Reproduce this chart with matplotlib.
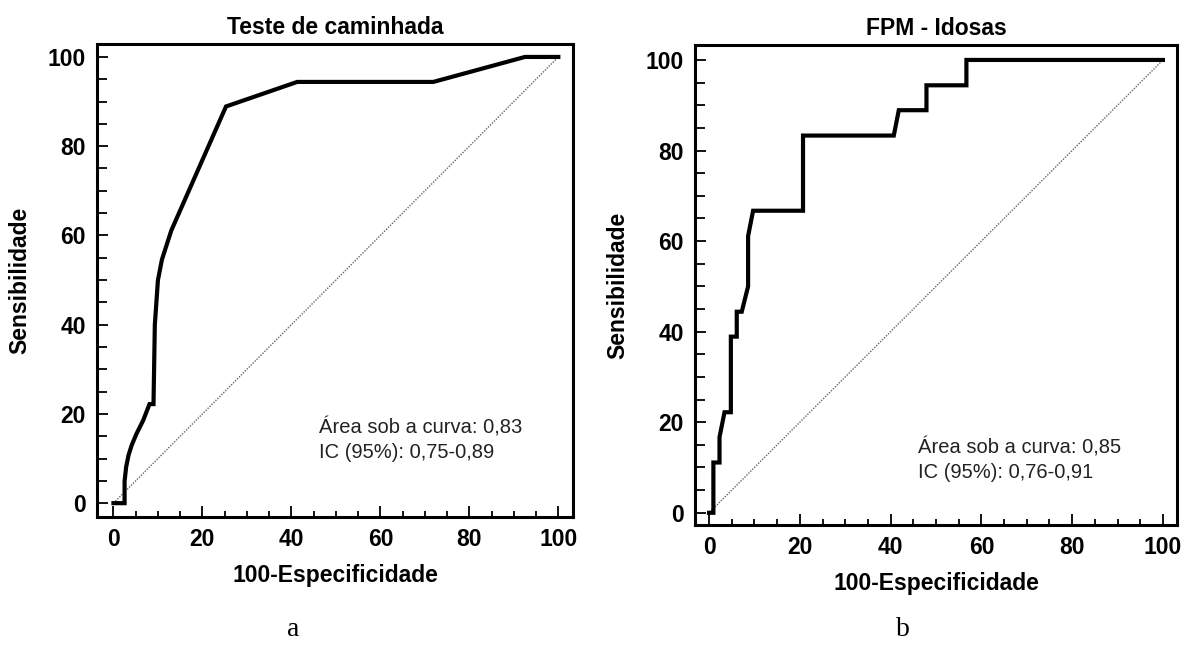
import matplotlib
matplotlib.use("Agg")
import matplotlib.pyplot as plt
from matplotlib.ticker import MultipleLocator

plt.rcParams['font.family'] = ['Liberation Sans', 'DejaVu Sans']

# ROC curve a - Teste de caminhada
walk_fpr = [0, 2.5, 2.5, 2.85, 3.4, 4.1, 5.2, 6.7, 8.1, 9.0, 9.3, 10.0, 10.9, 13.0,
            25.3, 41.3, 71.9, 92.5, 100]
walk_tpr = [0, 0, 4.9, 8.1, 10.8, 13.0, 15.6, 18.6, 22.2, 22.2, 40.0, 50.0, 54.6, 61.1,
            88.9, 94.4, 94.4, 100, 100]

# ROC curve b - FPM - Idosas
fpm_fpr = [0, 0.95, 0.95, 2.3, 2.3, 3.4, 4.8, 4.8, 6.1, 6.1, 7.2, 8.6, 8.6, 9.7,
           20.7, 20.7, 40.7, 41.8, 47.9, 47.9, 56.7, 56.7, 100]
fpm_tpr = [0, 0, 11.1, 11.1, 16.7, 22.2, 22.2, 38.9, 38.9, 44.4, 44.4, 50.0, 61.1, 66.7,
           66.7, 83.3, 83.3, 88.9, 88.9, 94.4, 94.4, 100, 100]

titles = ["Teste de caminhada", "FPM - Idosas"]
notes = [("Área sob a curva: 0,83", "IC (95%): 0,75-0,89"),
         ("Área sob a curva: 0,85", "IC (95%): 0,76-0,91")]
panel_tags = ["a", "b"]
ticks = [0, 20, 40, 60, 80, 100]

fig = plt.figure(figsize=(11.88, 6.51), dpi=100)

# frame positions in figure fractions, limits chosen so data 0..100 lands where the original has it
layouts = [
    dict(rect=[97/1188, 1 - 517/651, 476/1188, 473/651], xlim=(-3.7, 103.3), ylim=(-3.1, 102.9),
         note_xy=(46.2, 15.6, 10.1)),
    dict(rect=[695/1188, 1 - 525/651, 482/1188, 480/651], xlim=(-3.1, 103.1), ylim=(-2.7, 103.3),
         note_xy=(46.0, 13.2, 7.7)),
]
curves = [(walk_fpr, walk_tpr), (fpm_fpr, fpm_tpr)]

for i, lay in enumerate(layouts):
    ax = fig.add_axes(lay["rect"])
    fx, fy = curves[i]
    ax.plot([0, 100], [0, 100], color="#666666", lw=1.0, ls=(0, (1, 1)), zorder=1)
    ax.plot(fx, fy, color="black", lw=3.0, solid_joinstyle="miter", zorder=2)

    ax.set_xlim(*lay["xlim"])
    ax.set_ylim(*lay["ylim"])
    ax.set_xticks(ticks)
    ax.set_yticks(ticks)
    ax.xaxis.set_minor_locator(MultipleLocator(5))
    ax.yaxis.set_minor_locator(MultipleLocator(5))
    ax.tick_params(which="major", direction="in", length=8, width=1.3,
                   labelsize=16.5, pad=8, top=False, right=False)
    ax.tick_params(which="minor", direction="in", length=4.5, width=1.3,
                   top=False, right=False)
    ax.tick_params(axis="y", which="minor", length=7)
    for lab in ax.get_xticklabels() + ax.get_yticklabels():
        lab.set_fontweight("bold")
    for sp in ax.spines.values():
        sp.set_linewidth(2.2)

    ax.set_title(titles[i], fontsize=16.5, fontweight="bold", pad=7)
    ax.set_xlabel("100-Especificidade", fontsize=16.5, fontweight="bold", labelpad=9)
    ax.set_ylabel("Sensibilidade", fontsize=16.5, fontweight="bold", labelpad=12)

    nx, ny1, ny2 = lay["note_xy"]
    ax.text(nx, ny1, notes[i][0], fontsize=14.5, color="#222222", va="baseline")
    ax.text(nx, ny2, notes[i][1], fontsize=14.5, color="#222222", va="baseline")

fig.text(293/1188, 1 - 630/651, panel_tags[0], fontsize=20, family="Liberation Serif",
         ha="center", va="center")
fig.text(903/1188, 1 - 630/651, panel_tags[1], fontsize=20, family="Liberation Serif",
         ha="center", va="center")

fig.savefig("out.png", dpi=100)
